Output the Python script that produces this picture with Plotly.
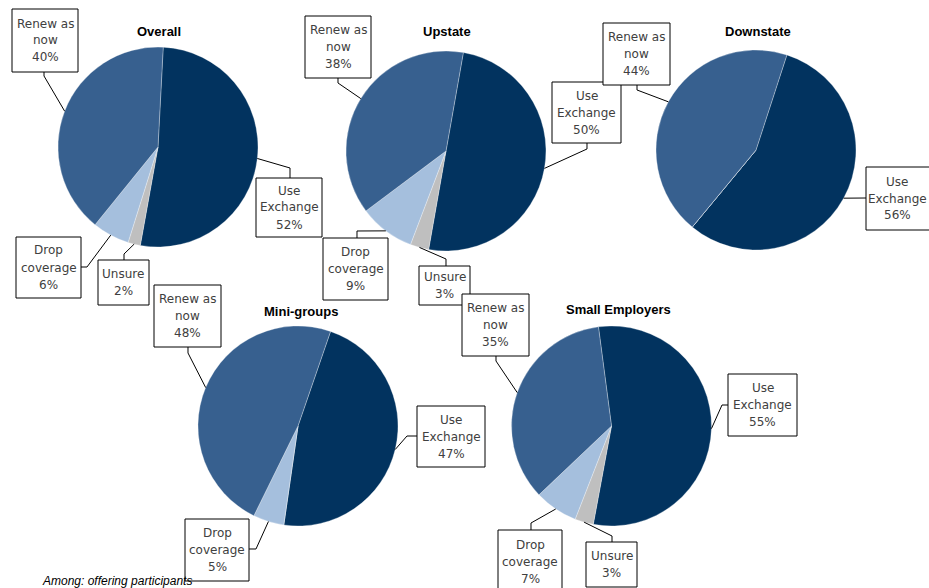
import math
import plotly.graph_objects as go

W, H = 929, 588

# ---------------- data ----------------
categories = ["Use Exchange", "Unsure", "Drop coverage", "Renew as now"]
label_lines = {
    "Use Exchange": ["Use", "Exchange"],
    "Unsure": ["Unsure"],
    "Drop coverage": ["Drop", "coverage"],
    "Renew as now": ["Renew as", "now"],
}
titles = ["Overall", "Upstate", "Downstate", "Mini-groups", "Small Employers"]
overall = [52, 2, 6, 40]
upstate = [50, 3, 9, 38]
downstate = [56, 0, 0, 44]
mini_groups = [47, 0, 5, 48]
small_employers = [55, 3, 7, 35]
series = [overall, upstate, downstate, mini_groups, small_employers]
footnote = "Among: offering participants"

colors = ["#02335F", "#BFBFBF", "#A5BFDD", "#37608F"]

# ---------------- layout (pixels) ----------------
R = 100
LINE = 17
centers = [(158, 147), (446, 151), (756, 150), (298, 426), (611.5, 426)]
rotations = [3, 10, 18, 19, -7.5]
title_pos = [(159, 32), (447, 32), (758, 32), (301, 311), (618, 309)]

# box: (x0, y0, x1, y1), elbow point, anchor point on box
boxes = [
    {
        "Renew as now": ((12, 9, 78, 72), (44, 76), (44, 72)),
        "Use Exchange": ((256, 178, 322, 237), (290, 168), (290, 178)),
        "Drop coverage": ((16, 237, 81, 298), (87, 267), (81, 267)),
        "Unsure": ((98, 260, 149, 305), (124, 254), (124, 260)),
    },
    {
        "Renew as now": ((305, 16, 371, 78), (338, 83), (338, 78)),
        "Use Exchange": ((552, 82, 621, 143), (587, 149), (587, 143)),
        "Drop coverage": ((323, 238, 388, 300), (357, 231), (357, 238)),
        "Unsure": ((419, 266, 470, 305), (446, 259), (446, 266)),
    },
    {
        "Renew as now": ((603, 23, 670, 85), (637, 90), (637, 85)),
        "Use Exchange": ((866, 167, 934, 230), (866, 198), (866, 198)),
    },
    {
        "Renew as now": ((154, 285, 221, 347), (188, 353), (188, 347)),
        "Use Exchange": ((417, 406, 485, 467), (407, 436), (417, 436)),
        "Drop coverage": ((185, 519, 249, 581), (256, 549), (249, 549)),
    },
    {
        "Renew as now": ((462, 294, 529, 356), (496, 361), (496, 356)),
        "Use Exchange": ((728, 374, 797, 436), (722, 405), (728, 405)),
        "Drop coverage": ((498, 530, 562, 594), (531, 523), (531, 530)),
        "Unsure": ((586, 542, 637, 587), (612, 536), (612, 542)),
    },
]
text_center_override = {(2, "Use Exchange"): 897}


def px(x):
    return x / W


def py(y):
    return 1 - y / H


fig = go.Figure()
shapes = []
annotations = []

for i, vals in enumerate(series):
    cx, cy = centers[i]
    fig.add_trace(
        go.Pie(
            labels=categories,
            values=vals,
            sort=False,
            direction="clockwise",
            rotation=rotations[i],
            marker=dict(colors=colors, line=dict(color="#ffffff", width=0.3)),
            textinfo="none",
            hoverinfo="none",
            showlegend=False,
            domain=dict(x=[px(cx - R), px(cx + R)], y=[py(cy + R), py(cy - R)]),
        )
    )
    tx, ty = title_pos[i]
    annotations.append(
        dict(
            x=px(tx), y=py(ty), xref="paper", yref="paper",
            text="<b>%s</b>" % titles[i], showarrow=False,
            font=dict(family="Liberation Sans, Arial", size=13, color="#000000"),
            xanchor="center", yanchor="middle",
        )
    )
    total = sum(vals)
    cum = 0
    for cat, v in zip(categories, vals):
        if v > 0 and cat in boxes[i]:
            ang = math.radians(rotations[i] + 360.0 * (cum + v / 2.0) / total)
            p0 = (cx + R * math.sin(ang), cy - R * math.cos(ang))
            (x0, y0, x1, y1), el, an = boxes[i][cat]
            path = "M %f %f L %f %f L %f %f" % (
                px(p0[0]), py(p0[1]), px(el[0]), py(el[1]), px(an[0]), py(an[1]))
            shapes.append(dict(type="path", path=path, xref="paper", yref="paper",
                               line=dict(color="#000000", width=1), layer="above"))
            shapes.append(dict(type="rect", xref="paper", yref="paper",
                               x0=px(x0), x1=px(x1), y0=py(y1), y1=py(y0),
                               fillcolor="#ffffff",
                               line=dict(color="#000000", width=1), layer="above"))
            lines = label_lines[cat] + ["%d%%" % v]
            n = len(lines)
            tcx = text_center_override.get((i, cat), (x0 + x1) / 2)
            tcy = (y0 + y1) / 2
            for k, ln in enumerate(lines):
                yy = tcy + (k - (n - 1) / 2.0) * LINE
                annotations.append(
                    dict(
                        x=px(tcx), y=py(yy), xref="paper", yref="paper",
                        text=ln, showarrow=False, align="center",
                        font=dict(family="DejaVu Sans", size=12, color="#404040"),
                        xanchor="center", yanchor="middle",
                    )
                )
        cum += v

annotations.append(
    dict(
        x=px(40), y=py(581), xref="paper", yref="paper",
        text="<i>%s</i>" % footnote, showarrow=False,
        font=dict(family="Liberation Sans, Arial", size=12, color="#000000"),
        xanchor="left", yanchor="middle",
    )
)

fig.update_layout(
    width=W, height=H,
    margin=dict(l=0, r=0, t=0, b=0),
    paper_bgcolor="#ffffff",
    plot_bgcolor="#ffffff",
    shapes=shapes,
    annotations=annotations,
)

fig.write_html("out.html")
